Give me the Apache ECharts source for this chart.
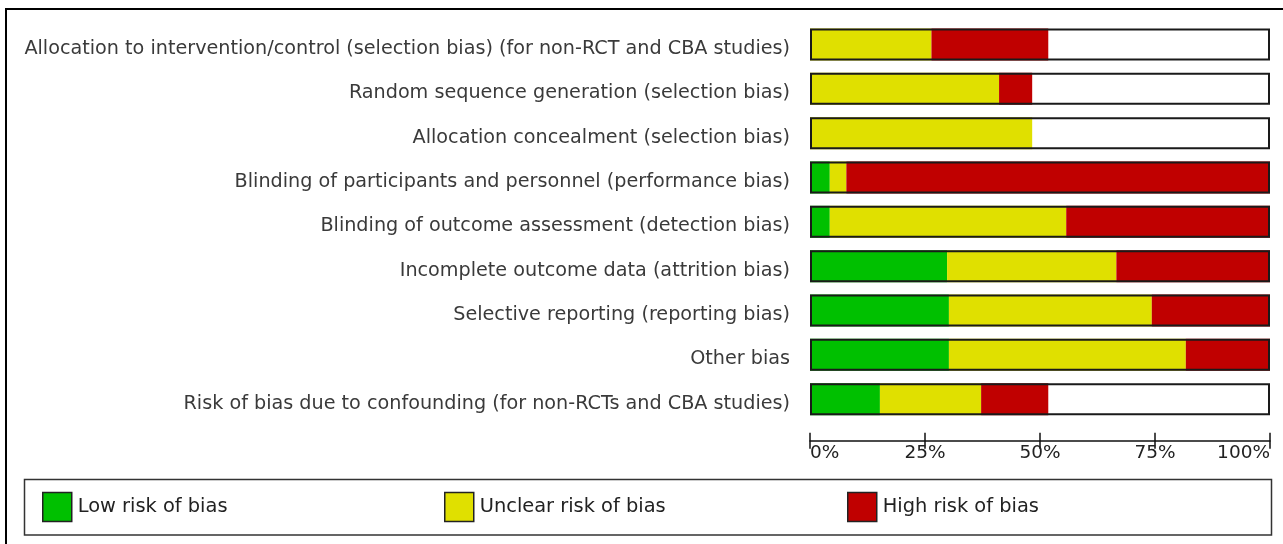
<!DOCTYPE html>
<html>
<head>
<meta charset="utf-8">
<script src="https://cdn.jsdelivr.net/npm/echarts@6/dist/echarts.min.js"></script>
<style>
  html, body { margin: 0; padding: 0; background: #fff; }
  #chart { width: 1283px; height: 544px; }
</style>
</head>
<body>
<div id="chart"></div>
<script>
const categories = [
  'Allocation to intervention/control (selection bias) (for non-RCT and CBA studies)',
  'Random sequence generation (selection bias)',
  'Allocation concealment (selection bias)',
  'Blinding of participants and personnel (performance bias)',
  'Blinding of outcome assessment (detection bias)',
  'Incomplete outcome data (attrition bias)',
  'Selective reporting (reporting bias)',
  'Other bias',
  'Risk of bias due to confounding (for non-RCTs and CBA studies)'
];
const seriesNames = ['Low risk of bias', 'Unclear risk of bias', 'High risk of bias'];
const lowRisk     = [0,    0,    0,    4.3,  4.3,  29.8, 30.2, 30.2, 15.2];
const unclearRisk = [26.4, 41.1, 48.3, 3.6,  51.4, 36.8, 44.1, 51.5, 22.0];
const highRisk    = [25.4, 7.2,  0,    92.1, 44.3, 33.4, 25.7, 18.3, 14.6];
const tickValues  = [0, 25, 50, 75, 100];
const frameTotal  = categories.map(() => 100);

const colors = ['#00c000', '#e0e000', '#c00000'];
const FONT = 'DejaVu Sans';

const chart = echarts.init(document.getElementById('chart'), null, { renderer: 'canvas' });

const gridLeft = 810, gridRight = 13, gridTop = 22.3, gridBottom = 122.7;

const xAxisBase = {
  type: 'value', min: tickValues[0], max: tickValues[tickValues.length - 1], interval: 25,
  position: 'bottom',
  splitLine: { show: false }
};

const option = {
  animation: false,
  backgroundColor: '#fff',
  grid: { left: gridLeft, right: gridRight, top: gridTop, bottom: gridBottom, containLabel: false },
  xAxis: [
    Object.assign({}, xAxisBase, {
      offset: 19.5,
      axisLine: { show: true, lineStyle: { color: '#111', width: 1.5 } },
      axisTick: { show: false },
      axisLabel: {
        show: true, margin: 3, color: '#222', fontFamily: FONT, fontSize: 18.5,
        formatter: '{value}%', alignMinLabel: 'left', alignMaxLabel: 'right'
      }
    }),
    Object.assign({}, xAxisBase, {
      offset: 27.5,
      axisLine: { show: false },
      axisTick: { show: true, inside: true, length: 16, lineStyle: { color: '#111', width: 1.5 } },
      axisLabel: { show: false }
    })
  ],
  yAxis: {
    type: 'category', data: categories, inverse: true,
    axisLine: { show: false }, axisTick: { show: false }, splitLine: { show: false },
    axisLabel: {
      margin: 20, color: '#3a3a3a', fontFamily: FONT, fontSize: 19.2,
      verticalAlign: 'top', lineHeight: 9
    }
  },
  legend: seriesNames.map((n, i) => ({
    data: [n],
    left: [42, 444, 847][i],
    top: 491.8,
    padding: 0,
    itemWidth: 29, itemHeight: 29, itemGap: 0,
    icon: 'rect',
    itemStyle: { borderColor: '#222', borderWidth: 1.5 },
    textStyle: { color: '#222', fontFamily: FONT, fontSize: 19.4, padding: [0, 0, 0, 1] },
    selectedMode: false
  })),
  graphic: [
    { type: 'rect', z: -10, silent: true,
      shape: { x: 6, y: 9, width: 1290, height: 560 },
      style: { fill: 'none', stroke: '#000', lineWidth: 2 } },
    { type: 'rect', z: -5, silent: true,
      shape: { x: 24.5, y: 479.5, width: 1247, height: 55.5 },
      style: { fill: '#fff', stroke: '#333', lineWidth: 1.5 } }
  ],
  series: [
    ...[lowRisk, unclearRisk, highRisk].map((d, i) => ({
      name: seriesNames[i], type: 'bar', stack: 'risk', data: d,
      barWidth: 32, barGap: '-100%',
      itemStyle: { color: colors[i] },
      silent: true
    })),
    {
      name: 'frame', type: 'bar', data: frameTotal, barWidth: 32, barGap: '-100%', z: 5,
      itemStyle: { color: 'rgba(0,0,0,0)', borderColor: '#1a1a1a', borderWidth: 2 },
      silent: true
    }
  ]
};
chart.setOption(option);
</script>
</body>
</html>
